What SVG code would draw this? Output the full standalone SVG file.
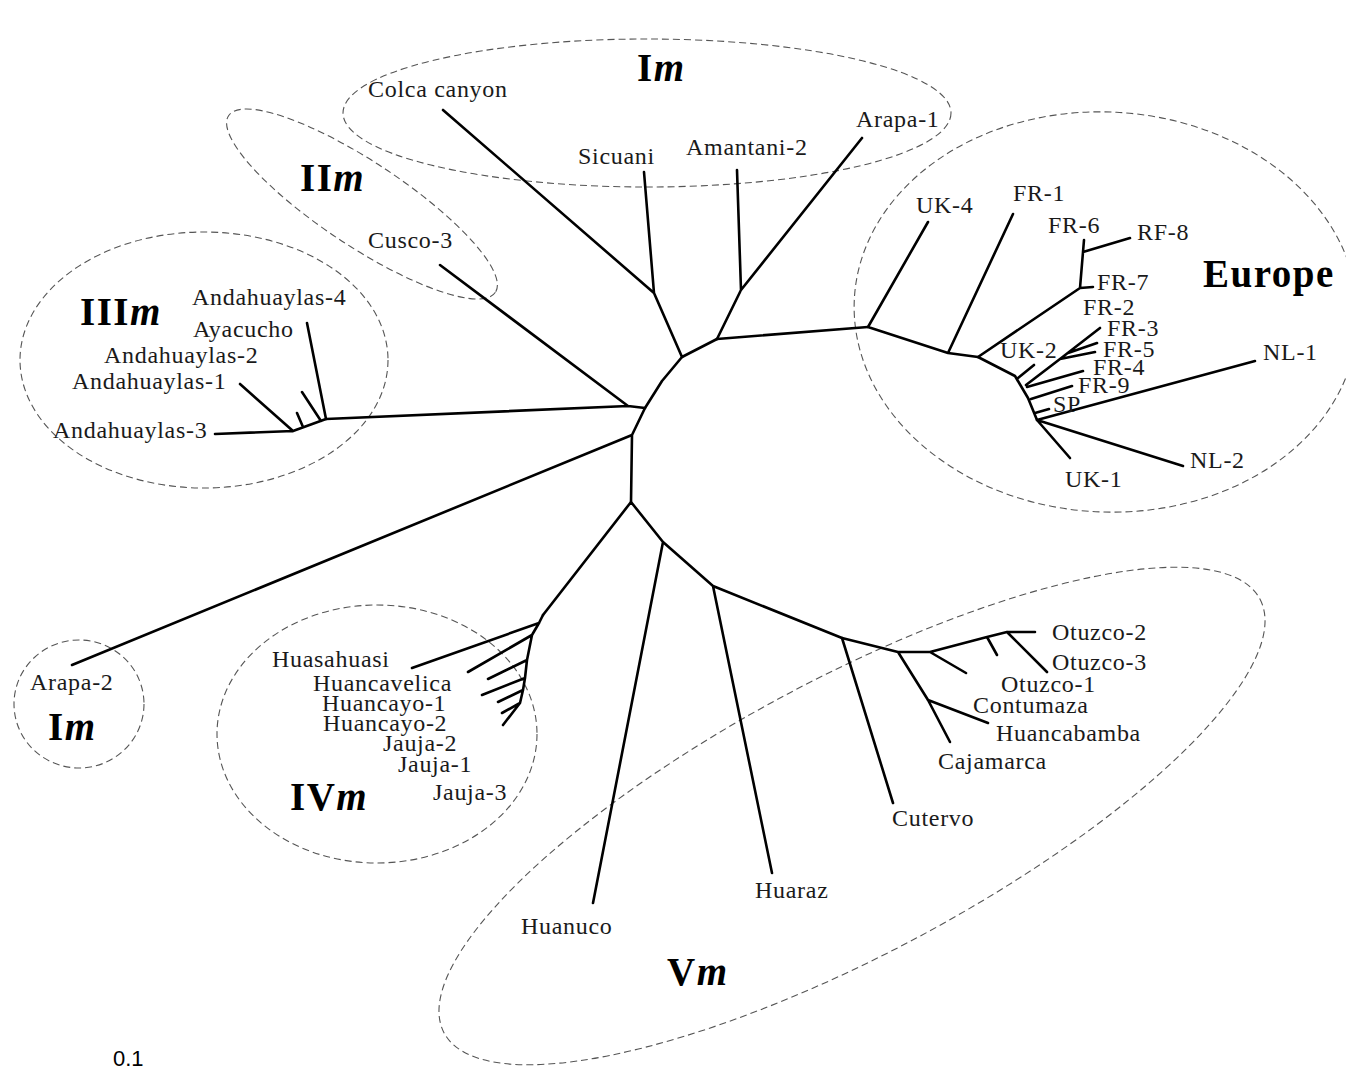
<svg xmlns="http://www.w3.org/2000/svg" width="1346" height="1069" viewBox="0 0 1346 1069">
<style>
.br{stroke:#000;stroke-width:2.6;fill:none;stroke-linecap:round;stroke-linejoin:round}
.cl{fill:none;stroke:#555;stroke-width:1.1;stroke-dasharray:7 4}
.lb{font-family:"Liberation Serif",serif;font-size:24px;letter-spacing:0.7px;fill:#1a1a1a}
.cg{font-family:"Liberation Serif",serif;font-size:39px;font-weight:bold;letter-spacing:1.5px;fill:#000}
.it{font-style:italic}
.sc{font-family:"Liberation Sans",Arial,sans-serif;font-size:22px;fill:#000}
</style>
<rect width="1346" height="1069" fill="#fff"/>
<g id="clusters">
<g id="cluster-Im-top"><ellipse class="cl" cx="647" cy="113" rx="304" ry="74"/><text class="cg" x="637" y="81">I<tspan class="it">m</tspan></text></g>
<g id="cluster-IIm"><ellipse class="cl" cx="362" cy="204" rx="160" ry="42" transform="rotate(33.5 362 204)"/><text class="cg" x="300" y="191">II<tspan class="it">m</tspan></text></g>
<g id="cluster-IIIm"><ellipse class="cl" cx="204" cy="360" rx="184" ry="128"/><text class="cg" x="80" y="325">III<tspan class="it">m</tspan></text></g>
<g id="cluster-Europe"><ellipse class="cl" cx="1106" cy="312" rx="252" ry="200" transform="rotate(3 1106 312)"/><text class="cg" x="1203" y="287">Europe</text></g>
<g id="cluster-Im-arapa2"><ellipse class="cl" cx="79" cy="704" rx="65" ry="64"/><text class="cg" x="48" y="740">I<tspan class="it">m</tspan></text></g>
<g id="cluster-IVm"><ellipse class="cl" cx="377" cy="734" rx="160" ry="129"/><text class="cg" x="290" y="810">IV<tspan class="it">m</tspan></text></g>
<g id="cluster-Vm"><ellipse class="cl" cx="852" cy="816" rx="462" ry="138" transform="rotate(-28 852 816)"/><text class="cg" x="667" y="985">V<tspan class="it">m</tspan></text></g>
</g>
<g id="connectors" class="br">
<path d="M717,339 L741,290 L862,138 M741,290 L737,170"/>
<path d="M717,339 L868,327"/>
<path d="M717,339 L682,357 L654,293 L443,110 M654,293 L644,172"/>
<path d="M682,357 L662,381 L645,408 L628,406 L440,265 M628,406 L326,419"/>
<path d="M645,408 L632,435 L72,665 M632,435 L631,502"/>
<path d="M631,502 L543,615 M631,502 L663,542 L593,903 M663,542 L713,586 L772,873 M713,586 L842,638 L893,803"/>
<path d="M842,638 L898,652 L930,652 L987,637 L1007,632 L1035,632 M1007,632 L1047,672 M987,637 L997,655 M930,652 L966,673 M898,652 L928,700 L950,742 M928,700 L988,723"/>
<path d="M326,419 L293,431 L215,434 M293,431 L240,384 M303,427 L297,413 M326,419 L307,323 M321,421 L302,392"/>
<path d="M543,615 L539,623 L532,635 L527,660 L525,678 L523,690 L520,703 L503,725 M539,623 L412,668 M532,635 L468,672 M527,660 L488,679 M525,678 L482,695 M523,690 L498,702 M520,703 L502,713"/>
<path d="M868,327 L928,222 M868,327 L948,353 L1013,214 M948,353 L978,357 L1080,288 L1093,287 M1080,288 L1083,252 L1084,240 M1083,252 L1130,238"/>
<path d="M978,357 L1015,376 L1028,398 L1037,420 M1018,378 L1034,365 M1026,385 L1060,359 L1100,328 M1060,359 L1095,352 M1068,353 L1097,343 M1027,387 L1083,371 M1031,399 L1072,386 M1035,413 L1049,409"/>
<path d="M1037,420 L1255,361 M1037,420 L1183,466 M1037,420 L1070,458"/>
</g>
<g id="leaves" class="lb">
<g id="n-colca"><text x="368" y="97">Colca canyon</text></g>
<g id="n-sicuani"><text x="578" y="164">Sicuani</text></g>
<g id="n-amantani2"><text x="686" y="155">Amantani-2</text></g>
<g id="n-arapa1"><text x="856" y="127">Arapa-1</text></g>
<g id="n-cusco3"><text x="368" y="248">Cusco-3</text></g>
<g id="n-andahuaylas4"><text x="192" y="305">Andahuaylas-4</text></g>
<g id="n-ayacucho"><text x="193" y="337">Ayacucho</text></g>
<g id="n-andahuaylas2"><text x="104" y="363">Andahuaylas-2</text></g>
<g id="n-andahuaylas1"><text x="72" y="389">Andahuaylas-1</text></g>
<g id="n-andahuaylas3"><text x="53" y="438">Andahuaylas-3</text></g>
<g id="n-arapa2"><text x="30" y="690">Arapa-2</text></g>
<g id="n-huasahuasi"><text x="272" y="667">Huasahuasi</text></g>
<g id="n-huancavelica"><text x="313" y="691">Huancavelica</text></g>
<g id="n-huancayo1"><text x="322" y="711">Huancayo-1</text></g>
<g id="n-huancayo2"><text x="323" y="731">Huancayo-2</text></g>
<g id="n-jauja2"><text x="383" y="751">Jauja-2</text></g>
<g id="n-jauja1"><text x="398" y="772">Jauja-1</text></g>
<g id="n-jauja3"><text x="433" y="800">Jauja-3</text></g>
<g id="n-huanuco"><text x="521" y="934">Huanuco</text></g>
<g id="n-huaraz"><text x="755" y="898">Huaraz</text></g>
<g id="n-cutervo"><text x="892" y="826">Cutervo</text></g>
<g id="n-cajamarca"><text x="938" y="769">Cajamarca</text></g>
<g id="n-huancabamba"><text x="996" y="741">Huancabamba</text></g>
<g id="n-contumaza"><text x="973" y="713">Contumaza</text></g>
<g id="n-otuzco1"><text x="1001" y="692">Otuzco-1</text></g>
<g id="n-otuzco3"><text x="1052" y="670">Otuzco-3</text></g>
<g id="n-otuzco2"><text x="1052" y="640">Otuzco-2</text></g>
<g id="n-uk4"><text x="916" y="213">UK-4</text></g>
<g id="n-fr1"><text x="1013" y="201">FR-1</text></g>
<g id="n-fr6"><text x="1048" y="233">FR-6</text></g>
<g id="n-rf8"><text x="1137" y="240">RF-8</text></g>
<g id="n-fr7"><text x="1097" y="290">FR-7</text></g>
<g id="n-fr2"><text x="1083" y="315">FR-2</text></g>
<g id="n-fr3"><text x="1107" y="336">FR-3</text></g>
<g id="n-fr5"><text x="1103" y="357">FR-5</text></g>
<g id="n-uk2"><text x="1000" y="358">UK-2</text></g>
<g id="n-fr4"><text x="1093" y="375">FR-4</text></g>
<g id="n-fr9"><text x="1078" y="393">FR-9</text></g>
<g id="n-sp"><text x="1053" y="412">SP</text></g>
<g id="n-nl1"><text x="1263" y="360">NL-1</text></g>
<g id="n-nl2"><text x="1190" y="468">NL-2</text></g>
<g id="n-uk1"><text x="1065" y="487">UK-1</text></g>
</g>
<g id="scale"><text class="sc" x="113" y="1066">0.1</text></g>
</svg>
